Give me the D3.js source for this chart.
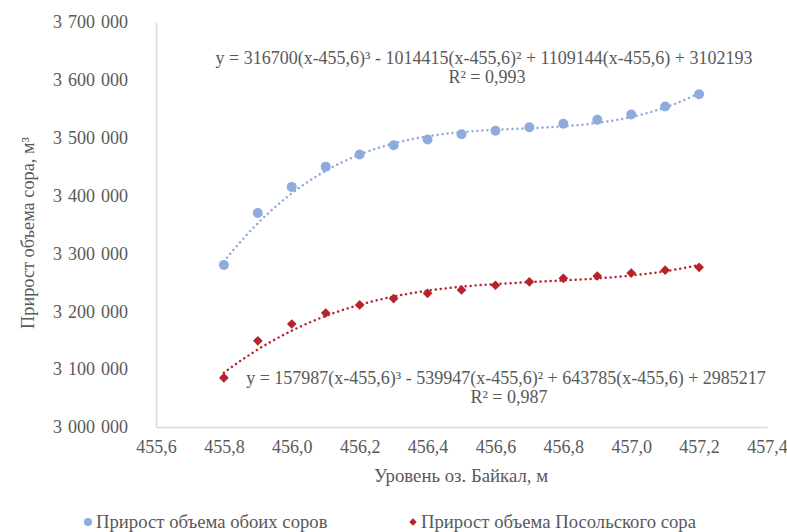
<!DOCTYPE html>
<html>
<head>
<meta charset="utf-8">
<script src="https://cdn.jsdelivr.net/npm/d3@7"></script>
<style>
  body { margin: 0; background: #fff; }
  svg { display: block; font-family: "Liberation Serif", "Times New Roman", serif; }
</style>
</head>
<body>
<svg id="chart" width="787" height="532"></svg>
<script>
// lake level, m
var levels = [455.8, 455.9, 456.0, 456.1, 456.2, 456.3, 456.4, 456.5,
              456.6, 456.7, 456.8, 456.9, 457.0, 457.1, 457.2];
// both sors
var bothSors = [3280000, 3370000, 3415000, 3450000, 3471000, 3487000, 3497000, 3506000,
                3512000, 3518000, 3524000, 3531000, 3540000, 3554000, 3575000];
// Posolsky sor
var posolsky = [3085000, 3149000, 3178000, 3197000, 3211000, 3222000, 3231000, 3237000,
                3245000, 3251000, 3257000, 3261000, 3266000, 3271000, 3276000];

// trendline coefficients (a3, a2, a1, a0) for t = x - 455.6, as printed on the chart
var bothFit = [316700, -1014415, 1109144, 3102193];
var posolskyFit = [157987, -539947, 643785, 2985217];

var xTicks = [455.6, 455.8, 456.0, 456.2, 456.4, 456.6, 456.8, 457.0, 457.2, 457.4];
var yTicks = [3000000, 3100000, 3200000, 3300000, 3400000, 3500000, 3600000, 3700000];

var blue = '#8faadc',
    red = '#b7232b',
    textColor = '#595959',
    axisColor = '#d9d9d9';

var svg = d3.select('#chart');

var x = d3.scaleLinear().domain([455.6, 457.4]).range([156, 767]);
var y = d3.scaleLinear().domain([3000000, 3700000]).range([427, 22]);

var fmtX = function(d) { return d.toFixed(1).replace('.', ','); };
// thousands separated by a slightly wider space, like the original
var fmtY = function(d) { return d3.format(',')(d).replace(/,/g, '\u2004'); };

// axes
var xAxis = svg.append('g')
    .attr('transform', 'translate(0,' + y(3000000) + ')')
    .call(d3.axisBottom(x).tickValues(xTicks).tickFormat(fmtX).tickSize(0).tickPadding(13));
var yAxis = svg.append('g')
    .attr('transform', 'translate(' + x(455.6) + ',0)')
    .call(d3.axisLeft(y).tickValues(yTicks).tickFormat(fmtY).tickSize(0).tickPadding(28));

[xAxis, yAxis].forEach(function(a) {
  a.select('.domain').attr('stroke', axisColor).attr('stroke-width', 1.5);
  a.selectAll('text')
    .attr('fill', textColor)
    .style('font-family', '"Liberation Serif", "Times New Roman", serif')
    .style('font-size', '18px');
});

// axis titles
svg.append('text')
    .attr('x', 461).attr('y', 482)
    .attr('text-anchor', 'middle')
    .attr('fill', textColor)
    .style('font-size', '18.8px')
    .text('Уровень оз. Байкал, м');

svg.append('text')
    .attr('transform', 'translate(34,233) rotate(-90)')
    .attr('text-anchor', 'middle')
    .attr('fill', textColor)
    .style('font-size', '18.3px')
    .text('Прирост объема сора, м³');

// trendlines
var poly = function(c) {
  return function(v) {
    var t = v - 455.6;
    return c[0] * t * t * t + c[1] * t * t + c[2] * t + c[3];
  };
};

var line = d3.line().curve(d3.curveMonotoneX);

function drawTrend(coef, color) {
  var f = poly(coef);
  var pts = d3.range(levels[0], levels[levels.length - 1] + 0.0001, 0.01)
    .map(function(v) { return [x(v), y(f(v))]; });
  svg.append('path')
      .attr('d', line(pts))
      .attr('fill', 'none')
      .attr('stroke', color)
      .attr('stroke-width', 2.5)
      .attr('stroke-linecap', 'round')
      .attr('stroke-dasharray', '0.01 5');
}

drawTrend(bothFit, blue);
drawTrend(posolskyFit, red);

// markers
svg.append('g').selectAll('circle')
    .data(levels)
  .enter().append('circle')
    .attr('cx', function(d) { return x(d); })
    .attr('cy', function(d, i) { return y(bothSors[i]); })
    .attr('r', 5)
    .attr('fill', blue);

var diamond = d3.symbol().type(d3.symbolDiamond2).size(60);
svg.append('g').selectAll('path')
    .data(levels)
  .enter().append('path')
    .attr('d', diamond)
    .attr('transform', function(d, i) { return 'translate(' + x(d) + ',' + y(posolsky[i]) + ')'; })
    .attr('fill', red);

// equations
function equation(cx, cy, eq, r2) {
  var g = svg.append('g').attr('fill', textColor).style('font-size', '18px').attr('text-anchor', 'middle');
  g.append('text').attr('x', cx).attr('y', cy).text(eq);
  g.append('text').attr('x', cx + 3).attr('y', cy + 19).text(r2);
}

equation(484, 64, 'y = 316700(x-455,6)³ - 1014415(x-455,6)² + 1109144(x-455,6) + 3102193', 'R² = 0,993');
equation(506, 384, 'y = 157987(x-455,6)³ - 539947(x-455,6)² + 643785(x-455,6) + 2985217', 'R² = 0,987');

// legend
var legend = svg.append('g').attr('fill', textColor).style('font-size', '18.7px');
legend.append('circle').attr('cx', 88).attr('cy', 522).attr('r', 4).attr('fill', blue);
legend.append('text').attr('x', 96).attr('y', 528).text('Прирост объема обоих соров');
legend.append('path')
    .attr('d', d3.symbol().type(d3.symbolDiamond2).size(36))
    .attr('transform', 'translate(413,522)')
    .attr('fill', red);
legend.append('text').attr('x', 421).attr('y', 528).text('Прирост объема Посольского сора');
</script>
</body>
</html>
